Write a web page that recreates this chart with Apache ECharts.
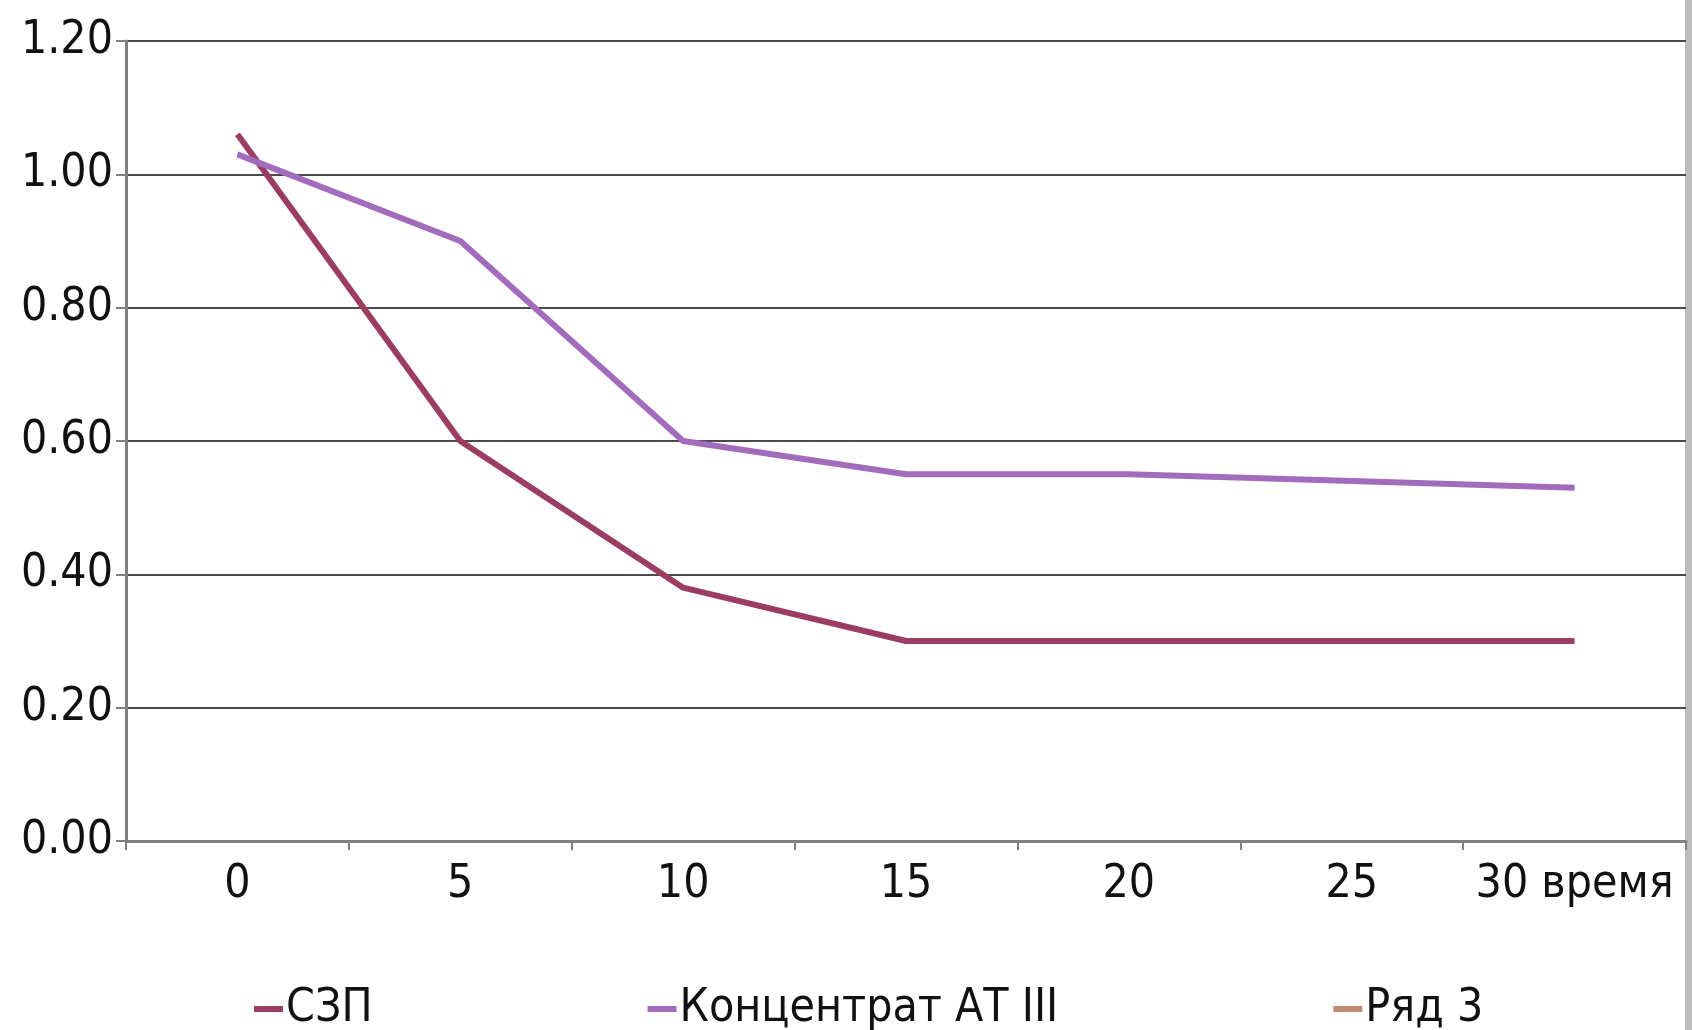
<!DOCTYPE html>
<html>
<head>
<meta charset="utf-8">
<script src="https://cdn.jsdelivr.net/npm/echarts@6/dist/echarts.min.js"></script>
<style>
  html, body { margin: 0; padding: 0; background: #fff; }
  #chart { width: 1692px; height: 1030px; }
</style>
</head>
<body>
<div id="chart"></div>
<script>
// time points (x axis categories)
const categories = ['0', '5', '10', '15', '20', '25', '30']
const xName = 'время'
// series values
const szpValues = [1.06, 0.60, 0.38, 0.30, 0.30, 0.30, 0.30]
const atValues = [1.03, 0.90, 0.60, 0.55, 0.55, 0.54, 0.53]
const row3Values = []
const seriesNames = ['СЗП', 'Концентрат АТ III', 'Ряд 3']
const yTicks = { min: 0, max: 1.2, interval: 0.2 }

const font = '"DejaVu Sans Condensed", "DejaVu Sans", sans-serif'
const chart = echarts.init(document.getElementById('chart'))

chart.setOption({
  animation: false,
  backgroundColor: '#fff',
  grid: { left: 126, right: 6, top: 41, bottom: 189, containLabel: false },
  legend: {
    left: 249,
    top: 981,
    itemGap: 275,
    itemWidth: 29,
    itemHeight: 6,
    icon: 'rect',
    textStyle: { fontFamily: font, fontSize: 46, color: '#111', padding: [0, 0, 0, -2] },
    data: seriesNames
  },
  xAxis: {
    type: 'category',
    data: categories,
    boundaryGap: true,
    axisLine: { lineStyle: { color: '#808080', width: 3 } },
    axisTick: { show: true, interval: 0, length: 9, lineStyle: { color: '#808080', width: 2 } },
    axisLabel: {
      interval: 0,
      margin: 21,
      fontFamily: font,
      fontSize: 46,
      color: '#111',
      formatter: (v, i) => (i === categories.length - 1 ? v + ' ' + xName : v)
    },
    splitLine: { show: false }
  },
  yAxis: {
    type: 'value',
    min: yTicks.min,
    max: yTicks.max,
    interval: yTicks.interval,
    axisLine: { show: true, lineStyle: { color: '#808080', width: 3 } },
    axisTick: { show: true, length: 10, lineStyle: { color: '#808080', width: 2 } },
    axisLabel: {
      margin: 13,
      fontFamily: font,
      fontSize: 46,
      color: '#111',
      formatter: (v) => v.toFixed(2)
    },
    splitLine: { show: true, lineStyle: { color: '#4a4a4a', width: 2 } }
  },
  graphic: [
    { type: 'rect', right: 0, top: 0, shape: { width: 7, height: 1030 }, style: { fill: '#bdbdbd' }, z: -1 }
  ],
  series: [
    {
      name: seriesNames[0],
      type: 'line',
      data: szpValues,
      symbol: 'none',
      color: '#9b3c62',
      lineStyle: { width: 6, color: '#9b3c62' }
    },
    {
      name: seriesNames[1],
      type: 'line',
      data: atValues,
      symbol: 'none',
      color: '#a26bbb',
      lineStyle: { width: 6, color: '#a26bbb' }
    },
    {
      name: seriesNames[2],
      type: 'line',
      data: row3Values,
      symbol: 'none',
      color: '#c48a6e',
      lineStyle: { width: 6, color: '#c48a6e' }
    }
  ]
})
window.addEventListener('resize', () => chart.resize())
</script>
</body>
</html>
